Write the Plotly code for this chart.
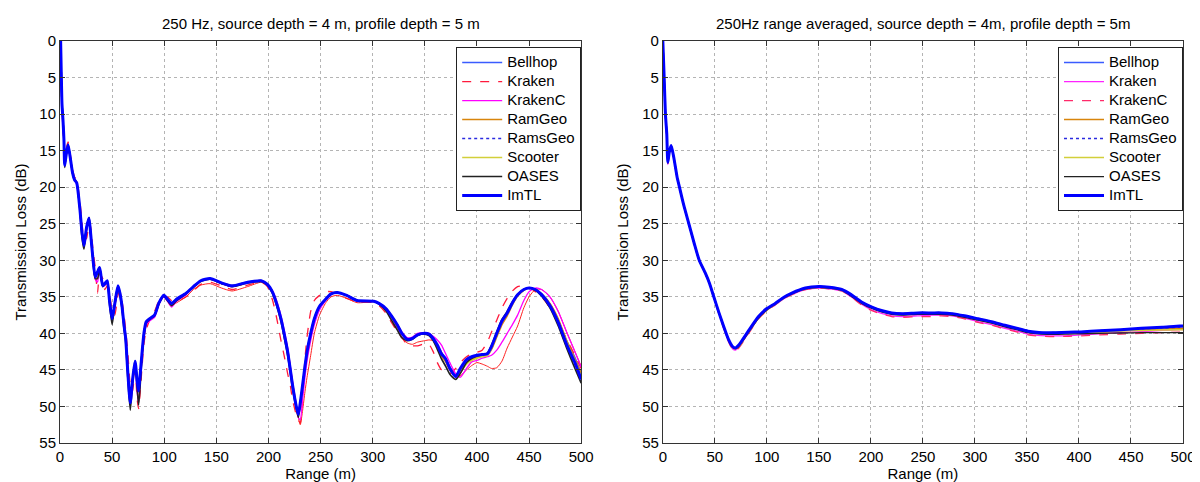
import plotly.graph_objects as go

# ---------------- Left panel data (250 Hz) ----------------
range_left = [0.6, 1.3, 1.9, 2.9, 3.8, 4.5, 5.5, 7.7, 10.2, 12,
              14, 16, 18.8, 21, 23, 25.5, 27.8, 29.5, 31.6, 33.8,
              36, 38, 41, 43, 45.3, 47.5, 50, 52.5, 55.6, 57.5,
              59.4, 61.5, 63, 65, 67.4, 69.5, 72, 74, 75.4, 77,
              78.5, 80.5, 82.7, 86, 90.7, 95, 99.6, 103, 107, 112,
              121, 128, 135, 144, 155, 165, 180, 193, 199, 204,
              208, 212, 215, 218.4, 221, 223, 226, 228.6, 230.5, 232.8,
              235, 237, 240.5, 244, 249, 255, 260, 266, 275, 285,
              301, 306, 312.6, 318, 323.8, 328, 333, 338, 343, 350,
              354, 358, 362, 366, 370, 374, 379.6, 384, 390, 395,
              400, 405, 410, 414, 419, 424, 429, 434, 439, 445,
              450, 456, 462, 470, 478, 486, 494, 500]

tl_left_imtl = [0, 5, 8.6, 10.9, 13.6, 17.0, 16.0, 14.2, 16.3, 18.0,
                19.0, 19.4, 22.6, 26.0, 28.0, 25.5, 24.2, 26.5, 29.8, 32.3,
                31.6, 31.0, 33.5, 33.2, 32.8, 35.5, 38.0, 36.0, 33.5, 34.5,
                36.2, 39.0, 40.7, 45.2, 49.5, 46.5, 43.8, 46.5, 47.9, 45.5,
                43.0, 40.0, 38.4, 38.0, 37.5, 35.8, 34.8, 35.3, 35.9, 35.3,
                34.5, 33.6, 32.8, 32.5, 33.1, 33.5, 33.0, 32.8, 33.3, 34.4,
                36.0, 38.0, 40.0, 42.5, 45.0, 47.0, 49.5, 51.1, 49.5, 47.0,
                44.5, 42.5, 40.0, 38.0, 36.3, 35.3, 34.6, 34.4, 34.8, 35.5,
                35.6, 35.9, 36.6, 37.6, 38.9, 40.0, 40.8, 40.7, 40.2, 40.0,
                40.1, 40.7, 41.6, 42.8, 43.5, 44.8, 45.9, 44.8, 43.6, 43.2,
                43.0, 42.9, 42.8, 41.8, 40.0, 38.3, 37.2, 35.8, 34.7, 34.0,
                33.8, 34.0, 34.7, 36.2, 38.5, 41.5, 44.0, 46.3]

tl_left_kraken = [0, 5.5, 9.5, 12.0, 14.0, 16.0, 15.0, 13.8, 15.8, 17.5,
                  18.6, 19.0, 21.5, 24.5, 27.2, 27.0, 24.8, 25.5, 28.5, 31.0,
                  34.5, 31.8, 32.5, 34.0, 33.5, 34.5, 36.8, 37.5, 34.8, 34.2,
                  35.5, 37.5, 39.5, 42.5, 47.0, 48.0, 45.0, 49.0, 50.3, 48.0,
                  45.0, 41.5, 39.5, 38.2, 37.0, 35.5, 35.0, 35.0, 35.5, 35.6,
                  35.0, 34.2, 33.3, 33.0, 33.5, 34.0, 33.4, 33.0, 33.6, 35.5,
                  38.0, 41.0, 43.0, 45.5, 47.2, 49.0, 50.8, 51.8, 52.3, 48.5,
                  43.5, 40.5, 37.0, 35.5, 34.8, 34.3, 34.3, 34.6, 35.2, 35.7,
                  35.8, 36.2, 37.2, 38.5, 39.8, 40.6, 41.5, 41.7, 41.7, 41.4,
                  41.5, 42.5, 44.0, 45.0, 45.4, 45.5, 44.8, 44.0, 43.2, 42.8,
                  42.6, 42.3, 41.2, 39.8, 38.2, 36.5, 35.2, 34.2, 33.6, 33.5,
                  33.7, 34.3, 35.0, 36.5, 38.5, 40.8, 43.0, 44.8]

tl_left_kraken_alt = [0, 5.2, 9.0, 11.5, 14.0, 16.5, 15.5, 14.0, 16.0, 17.8,
                      18.8, 19.2, 22.0, 25.5, 27.8, 26.0, 24.5, 26.0, 29.5, 32.5,
                      32.5, 31.5, 33.0, 33.5, 33.2, 35.0, 37.5, 36.5, 34.0, 34.2,
                      35.8, 38.5, 40.0, 44.0, 48.5, 47.5, 44.5, 47.0, 49.5, 47.0,
                      44.0, 41.0, 39.0, 38.3, 37.6, 36.0, 35.0, 35.4, 36.2, 35.8,
                      35.0, 34.0, 33.4, 33.2, 33.8, 34.2, 33.6, 33.0, 33.3, 34.2,
                      35.8, 37.8, 39.8, 42.0, 44.5, 46.5, 49.0, 51.5, 52.5, 50.5,
                      48.0, 46.0, 43.0, 40.0, 37.5, 35.8, 35.0, 34.8, 35.2, 35.8,
                      35.7, 36.0, 36.8, 37.9, 39.3, 40.5, 41.3, 41.5, 41.2, 41.0,
                      40.9, 41.0, 41.6, 42.5, 43.8, 45.0, 46.0, 45.8, 45.0, 44.4,
                      44.0, 44.2, 44.5, 44.8, 44.7, 43.8, 42.0, 40.5, 39.0, 36.5,
                      35.0, 34.0, 34.0, 35.0, 37.0, 39.8, 42.5, 44.5]

tl_left_krakenc = [0, 5, 8.8, 11.2, 13.8, 17.2, 16.2, 14.3, 16.4, 18.1,
                   19.1, 19.6, 22.8, 26.3, 28.2, 25.8, 24.4, 26.6, 30.0, 32.6,
                   33.0, 31.2, 33.6, 33.4, 33.0, 35.6, 38.2, 36.4, 33.8, 34.6,
                   36.4, 39.2, 40.9, 45.0, 49.0, 47.0, 44.2, 48.0, 49.5, 46.5,
                   43.5, 40.5, 38.8, 38.3, 37.8, 36.0, 35.0, 35.6, 36.4, 35.6,
                   34.7, 33.7, 32.8, 32.5, 33.2, 33.6, 33.1, 32.8, 33.3, 34.2,
                   35.6, 37.6, 39.5, 42.0, 44.5, 46.5, 49.8, 51.5, 51.8, 49.0,
                   46.0, 43.8, 41.0, 38.8, 36.8, 35.5, 34.7, 34.4, 34.8, 35.5,
                   35.6, 35.9, 36.6, 37.6, 38.8, 39.8, 40.6, 40.5, 40.0, 39.9,
                   40.0, 40.4, 40.9, 41.6, 42.8, 44.0, 45.5, 46.0, 44.8, 43.9,
                   43.7, 43.4, 43.2, 43.0, 42.3, 41.2, 40.0, 38.8, 37.5, 35.5,
                   34.3, 33.8, 34.0, 35.0, 37.0, 39.8, 42.5, 44.6]

tl_left_oases = [0, 5, 8.6, 10.9, 13.6, 17.3, 16.0, 14.2, 16.3, 18.0,
                 19.0, 19.4, 22.8, 26.8, 28.5, 25.5, 24.2, 26.8, 30.0, 32.5,
                 32.5, 31.2, 33.6, 33.2, 33.0, 36.0, 38.8, 36.2, 33.6, 34.8,
                 36.6, 39.5, 41.2, 46.0, 50.5, 47.0, 44.0, 47.5, 49.8, 47.0,
                 43.5, 40.3, 38.6, 38.1, 37.6, 35.9, 34.9, 35.5, 36.2, 35.5,
                 34.6, 33.7, 32.9, 32.6, 33.2, 33.6, 33.1, 32.9, 33.4, 34.6,
                 36.3, 38.4, 40.5, 43.0, 45.5, 47.5, 49.8, 51.5, 49.8, 47.2,
                 44.6, 42.6, 40.0, 38.0, 36.3, 35.3, 34.6, 34.4, 34.8, 35.5,
                 35.6, 36.0, 36.9, 38.2, 39.6, 40.6, 41.0, 40.8, 40.3, 40.1,
                 40.3, 41.0, 42.2, 43.5, 44.5, 45.6, 46.3, 45.5, 44.0, 43.4,
                 43.1, 42.9, 42.7, 41.6, 39.8, 38.1, 37.0, 35.7, 34.7, 34.0,
                 33.8, 34.1, 34.9, 36.5, 39.0, 42.0, 44.8, 46.8]

tl_left_bellhop = tl_left_imtl[:90] + [
    40.1, 40.7, 41.6, 42.8, 43.5, 44.6, 45.6, 45.2, 44.0, 43.4,
    43.2, 43.0, 42.9, 42.0, 40.2, 38.5, 37.3, 35.9, 34.8, 34.0,
    33.8, 34.0, 34.6, 36.0, 38.2, 41.0, 43.3, 45.5]

tl_left_ramgeo = tl_left_imtl[:90] + [
    40.2, 40.9, 41.9, 43.1, 43.9, 45.0, 45.8, 45.3, 44.0, 43.6,
    43.3, 43.1, 43.0, 42.2, 40.5, 38.8, 37.6, 36.1, 34.9, 34.1,
    33.8, 34.0, 34.6, 35.9, 38.0, 41.0, 43.5, 45.5]

tl_left_ramsgeo = tl_left_imtl[:110] + [
    33.8, 34.0, 34.7, 36.2, 38.5, 41.6, 44.3, 46.6]

tl_left_scooter = tl_left_imtl[:90] + [
    40.1, 40.7, 41.6, 42.8, 43.5, 44.8, 45.9, 45.3, 44.2, 43.7,
    43.4, 43.2, 43.0, 42.0, 40.1, 38.4, 37.2, 35.8, 34.7, 34.0,
    33.8, 34.0, 34.7, 36.1, 38.3, 41.2, 43.8, 46.0]

# ---------------- Right panel data (range averaged) ----------------
range_right = [0, 1.3, 2.5, 3.8, 4.8, 6.2, 8, 10.5, 13.7, 16,
               20, 25, 30, 35, 41, 45, 49, 54, 58.6, 63,
               67, 69.8, 73, 77, 82.6, 92, 100, 108, 116, 124,
               137, 150, 160, 172, 181, 191, 201, 211, 220, 230,
               245, 258.6, 268, 277.8, 290, 303, 316, 328.8, 340, 351,
               364, 376.8, 390, 402, 420, 440, 460, 480, 497, 500]

tl_right_imtl = [0, 5, 10, 12.7, 16.6, 15.2, 14.3, 15.9, 18.6, 20.0,
                 22.4, 25.0, 27.6, 30.0, 31.8, 33.2, 35.0, 37.2, 39.1, 40.8,
                 41.8, 42.0, 41.6, 40.8, 39.6, 37.7, 36.6, 35.9, 35.1, 34.5,
                 33.8, 33.6, 33.7, 34.0, 34.7, 35.7, 36.4, 36.9, 37.2, 37.3,
                 37.2, 37.2, 37.2, 37.3, 37.6, 38.0, 38.4, 38.9, 39.3, 39.7,
                 39.9, 39.9, 39.85, 39.8, 39.65, 39.5, 39.3, 39.15, 39.0, 39.0]

tl_right_kraken = [0, 5, 10.2, 13.0, 16.9, 15.3, 14.4, 16.0, 18.7, 20.1,
                   22.5, 25.1, 27.7, 30.1, 31.9, 33.3, 35.1, 37.3, 39.3, 41.0,
                   42.1, 42.3, 41.9, 41.1, 39.9, 37.9, 36.8, 36.1, 35.3, 34.7,
                   34.0, 33.8, 33.9, 34.2, 35.0, 36.0, 36.8, 37.3, 37.6, 37.7,
                   37.6, 37.5, 37.5, 37.6, 37.9, 38.4, 38.8, 39.3, 39.7, 40.1,
                   40.3, 40.35, 40.3, 40.2, 40.05, 39.9, 39.75, 39.6, 39.5, 39.5]

tl_right_krakenc = [0, 5, 10.3, 13.2, 17.0, 15.5, 14.6, 16.1, 18.8, 20.1,
                    22.5, 25.1, 27.7, 30.1, 31.9, 33.4, 35.2, 37.4, 39.4, 41.1,
                    42.2, 42.4, 42.0, 41.2, 40.0, 38.0, 36.9, 36.1, 35.3, 34.7,
                    34.0, 33.8, 33.9, 34.2, 35.0, 36.1, 36.9, 37.4, 37.7, 37.8,
                    37.7, 37.7, 37.6, 37.7, 38.0, 38.5, 38.9, 39.4, 39.8, 40.2,
                    40.4, 40.45, 40.4, 40.35, 40.2, 40.1, 40.0, 39.9, 39.85, 39.85]

tl_right_oases = [0, 5, 10, 12.8, 16.7, 15.3, 14.4, 16.0, 18.6, 20.0,
                  22.4, 25.0, 27.6, 30.0, 31.8, 33.2, 35.0, 37.2, 39.2, 40.9,
                  41.9, 42.1, 41.8, 41.0, 39.8, 37.9, 36.8, 36.0, 35.2, 34.6,
                  33.9, 33.7, 33.8, 34.1, 34.9, 35.9, 36.6, 37.1, 37.4, 37.5,
                  37.4, 37.4, 37.4, 37.5, 37.8, 38.2, 38.6, 39.1, 39.5, 39.9,
                  40.1, 40.15, 40.1, 40.05, 40.0, 39.95, 39.9, 39.9, 39.9, 39.9]

tl_right_ramgeo = [0, 5, 10, 12.7, 16.6, 15.2, 14.3, 15.9, 18.6, 20.0,
                   22.4, 25.0, 27.6, 30.0, 31.8, 33.2, 35.0, 37.2, 39.1, 40.8,
                   41.9, 42.1, 41.8, 41.0, 39.8, 37.9, 36.8, 36.0, 35.2, 34.6,
                   33.9, 33.7, 33.8, 34.1, 34.8, 35.8, 36.5, 37.0, 37.3, 37.4,
                   37.3, 37.3, 37.3, 37.4, 37.7, 38.1, 38.5, 39.0, 39.4, 39.8,
                   40.0, 40.0, 39.95, 39.9, 39.8, 39.65, 39.5, 39.4, 39.3, 39.3]

tl_right_bellhop = tl_right_imtl[:56] + [39.35, 39.2, 39.1, 39.1]
tl_right_ramsgeo = tl_right_imtl[:56] + [39.4, 39.25, 39.15, 39.15]
tl_right_scooter = tl_right_ramgeo[:56] + [39.6, 39.55, 39.5, 39.5]

# ---------------- Styles ----------------
FONT = "Liberation Sans, Arial, Helvetica, sans-serif"


def lg(name):
    # legend label drawn at 15px while legend row spacing follows a smaller base font
    return '<span style="font-size:15px">' + name + '</span>'


left_series = [
    ("Bellhop", tl_left_bellhop, "#3a5cff", 1.6, "solid"),
    ("Kraken", tl_left_kraken, "#ff1a3c", 1.3, "dash"),
    ("KrakenC", tl_left_krakenc, "#ff00ff", 1.3, "solid"),
    ("RamGeo", tl_left_ramgeo, "#d8850c", 1.6, "solid"),
    ("RamsGeo", tl_left_ramsgeo, "#2a2ae0", 1.6, "dot"),
    ("Scooter", tl_left_scooter, "#d2cf3a", 1.6, "solid"),
    ("OASES", tl_left_oases, "#222222", 1.6, "solid"),
]
right_series = [
    ("Bellhop", tl_right_bellhop, "#3a5cff", 1.6, "solid"),
    ("Kraken", tl_right_kraken, "#ff22ff", 1.3, "solid"),
    ("KrakenC", tl_right_krakenc, "#ff2a6a", 1.3, "dash"),
    ("RamGeo", tl_right_ramgeo, "#d8850c", 1.6, "solid"),
    ("RamsGeo", tl_right_ramsgeo, "#2a2ae0", 1.6, "dot"),
    ("Scooter", tl_right_scooter, "#d2cf3a", 1.6, "solid"),
    ("OASES", tl_right_oases, "#222222", 1.3, "solid"),
]

fig = go.Figure()

for name, vals, col, w, dash in left_series:
    fig.add_trace(go.Scatter(x=range_left, y=vals, name=lg(name), mode="lines",
                             line=dict(color=col, width=w, dash=dash, shape="spline", smoothing=0.6),
                             xaxis="x", yaxis="y", legend="legend"))
    if name == "Kraken":
        fig.add_trace(go.Scatter(x=range_left, y=tl_left_kraken_alt, name="Kraken", mode="lines",
                                 line=dict(color="#ff2020", width=1.0, shape="spline", smoothing=0.6),
                                 xaxis="x", yaxis="y", legend="legend", showlegend=False))
fig.add_trace(go.Scatter(x=range_left, y=tl_left_imtl, name=lg("ImTL"), mode="lines",
                         line=dict(color="#0000ff", width=3, shape="spline", smoothing=0.6),
                         xaxis="x", yaxis="y", legend="legend"))

for name, vals, col, w, dash in right_series:
    fig.add_trace(go.Scatter(x=range_right, y=vals, name=lg(name), mode="lines",
                             line=dict(color=col, width=w, dash=dash, shape="spline", smoothing=0.6),
                             xaxis="x2", yaxis="y2", legend="legend2"))
fig.add_trace(go.Scatter(x=range_right, y=tl_right_imtl, name=lg("ImTL"), mode="lines",
                         line=dict(color="#0000ff", width=3, shape="spline", smoothing=0.6),
                         xaxis="x2", yaxis="y2", legend="legend2"))

axis_common = dict(showline=True, linecolor="#333333", linewidth=1, mirror="ticks",
                   ticks="inside", ticklen=5, tickcolor="#333333",
                   showgrid=True, gridcolor="#b4b4b4", griddash="dot", gridwidth=1,
                   zeroline=False, tickfont=dict(size=15, color="black", family=FONT))

legend_common = dict(y=0.985, yanchor="top", bgcolor="white", bordercolor="#222222",
                     borderwidth=1, font=dict(size=12, family=FONT, color="black"),
                     tracegroupgap=0, itemwidth=40)

fig.update_layout(
    width=1200, height=482,
    margin=dict(l=52, r=21, t=33, b=43),
    paper_bgcolor="white", plot_bgcolor="white",
    font=dict(family=FONT, size=15, color="black"),
    xaxis=dict(domain=[0, 0.4641], range=[0, 500], dtick=50, anchor="y",
               title=dict(text="Range (m)", standoff=2, font=dict(size=15)), **axis_common),
    yaxis=dict(domain=[0, 1], range=[55, 0], dtick=5, anchor="x",
               title=dict(text="Transmission Loss (dB)", standoff=9, font=dict(size=15)), **axis_common),
    xaxis2=dict(domain=[0.5368, 1], range=[0, 500], dtick=50, anchor="y2",
                title=dict(text="Range (m)", standoff=2, font=dict(size=15)), **axis_common),
    yaxis2=dict(domain=[0, 1], range=[55, 0], dtick=5, anchor="x2",
                title=dict(text="Transmission Loss (dB)", standoff=9, font=dict(size=15)), **axis_common),
    legend=dict(x=0.4641, xanchor="right", **legend_common),
    legend2=dict(x=1.0, xanchor="right", **legend_common),
    showlegend=True,
    annotations=[
        dict(text="250 Hz, source depth = 4 m, profile depth = 5 m", x=0.2320, y=1,
             xref="paper", yref="paper", xanchor="center", yanchor="middle", yshift=18,
             showarrow=False, font=dict(size=15, family=FONT)),
        dict(text="250Hz range averaged, source depth = 4m, profile depth = 5m", x=0.7684, y=1,
             xref="paper", yref="paper", xanchor="center", yanchor="middle", yshift=18,
             showarrow=False, font=dict(size=15, family=FONT)),
    ],
)

fig.write_html("out.html")
